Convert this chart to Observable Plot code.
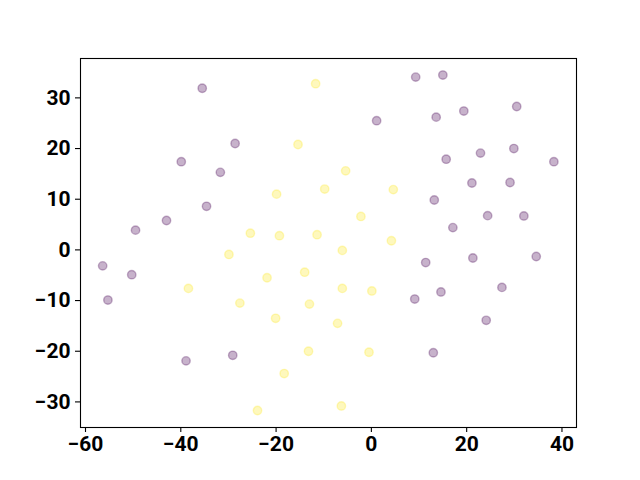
<!DOCTYPE html>
<html>
<head>
<meta charset="utf-8">
<script src="https://cdn.jsdelivr.net/npm/d3@7"></script>
<script src="https://cdn.jsdelivr.net/npm/@observablehq/plot@0.6"></script>
<style>
  html, body { margin: 0; padding: 0; background: #fff; }
  svg { display: block; }
</style>
</head>
<body>
<div id="chart"></div>
<script>
// Class 0 (purple) points
const purpleX = [-35.5, -28.6, -39.9, -31.7, -34.6, -43.0, -49.5,
  9.3, 15.0, 1.1, 13.6, 19.4, 30.5, 15.7, 22.9, 29.9, 38.3, 21.1, 29.1, 13.2, 24.4, 32.0, 17.1,
  -56.4, -50.3, -55.3, -38.9, -29.1,
  11.4, 21.3, 34.6, 9.1, 14.6, 27.4, 24.1, 13.0];
const purpleY = [31.9, 21.0, 17.4, 15.3, 8.6, 5.8, 3.9,
  34.1, 34.5, 25.5, 26.2, 27.4, 28.3, 17.9, 19.1, 20.0, 17.4, 13.2, 13.3, 9.85, 6.76, 6.7, 4.4,
  -3.15, -4.9, -9.9, -21.9, -20.8,
  -2.5, -1.6, -1.3, -9.7, -8.3, -7.4, -13.9, -20.3];
// Class 1 (yellow) points
const yellowX = [-11.7, -15.4, -19.9, -25.4, -19.3, -11.4, -9.8, -5.4, 4.6, -2.2, 4.2, -6.1,
  -29.9, -21.9, -14.0, -38.4, -27.6, -13.0, -20.1, -13.2, -18.3, -23.9,
  -6.1, 0.1, -7.1, -0.5, -6.3];
const yellowY = [32.8, 20.8, 11.0, 3.3, 2.8, 3.0, 12.0, 15.6, 11.9, 6.6, 1.8, -0.1,
  -0.9, -5.5, -4.4, -7.6, -10.5, -10.7, -13.5, -20.0, -24.4, -31.7,
  -7.6, -8.1, -14.5, -20.2, -30.8];
const xTicks = [-60, -40, -20, 0, 20, 40];
const yTicks = [-30, -20, -10, 0, 10, 20, 30];
const xDomain = [-61.05, 43.05];
const yDomain = [-35.05, 37.77];
const purple = "#440154";
const yellow = "#fde725";

const purplePts = purpleX.map((x, i) => ({x, y: purpleY[i]}));
const yellowPts = yellowX.map((x, i) => ({x, y: yellowY[i]}));

const dotStyle = (c) => ({x: "x", y: "y", r: 4.2, fill: c, fillOpacity: 0.3, stroke: c, strokeOpacity: 0.3, strokeWidth: 1.4});
const fmt = d => d < 0 ? "\u2212" + Math.abs(d) : String(d);

const chart = Plot.plot({
  width: 640,
  height: 480,
  marginLeft: 80,
  marginRight: 64,
  marginTop: 58,
  marginBottom: 53,
  style: {fontFamily: "Roboto", fontSize: "21px", fontWeight: "bold", color: "#000", background: "#fff"},
  x: {domain: xDomain, label: null},
  y: {domain: yDomain, label: null},
  marks: [
    Plot.dot(purplePts.slice(0, 7), dotStyle(purple)),
    Plot.dot(yellowPts, dotStyle(yellow)),
    Plot.dot(purplePts.slice(7), dotStyle(purple)),
    Plot.frame({stroke: "#000", strokeWidth: 1.1}),
    Plot.axisX({ticks: xTicks, tickSize: 5, tickPadding: 4, strokeWidth: 1.1, tickFormat: fmt, label: null}),
    Plot.axisY({ticks: yTicks, tickSize: 5, tickPadding: 5, strokeWidth: 1.1, tickFormat: fmt, label: null})
  ]
});
document.getElementById("chart").appendChild(chart);
</script>
</body>
</html>
